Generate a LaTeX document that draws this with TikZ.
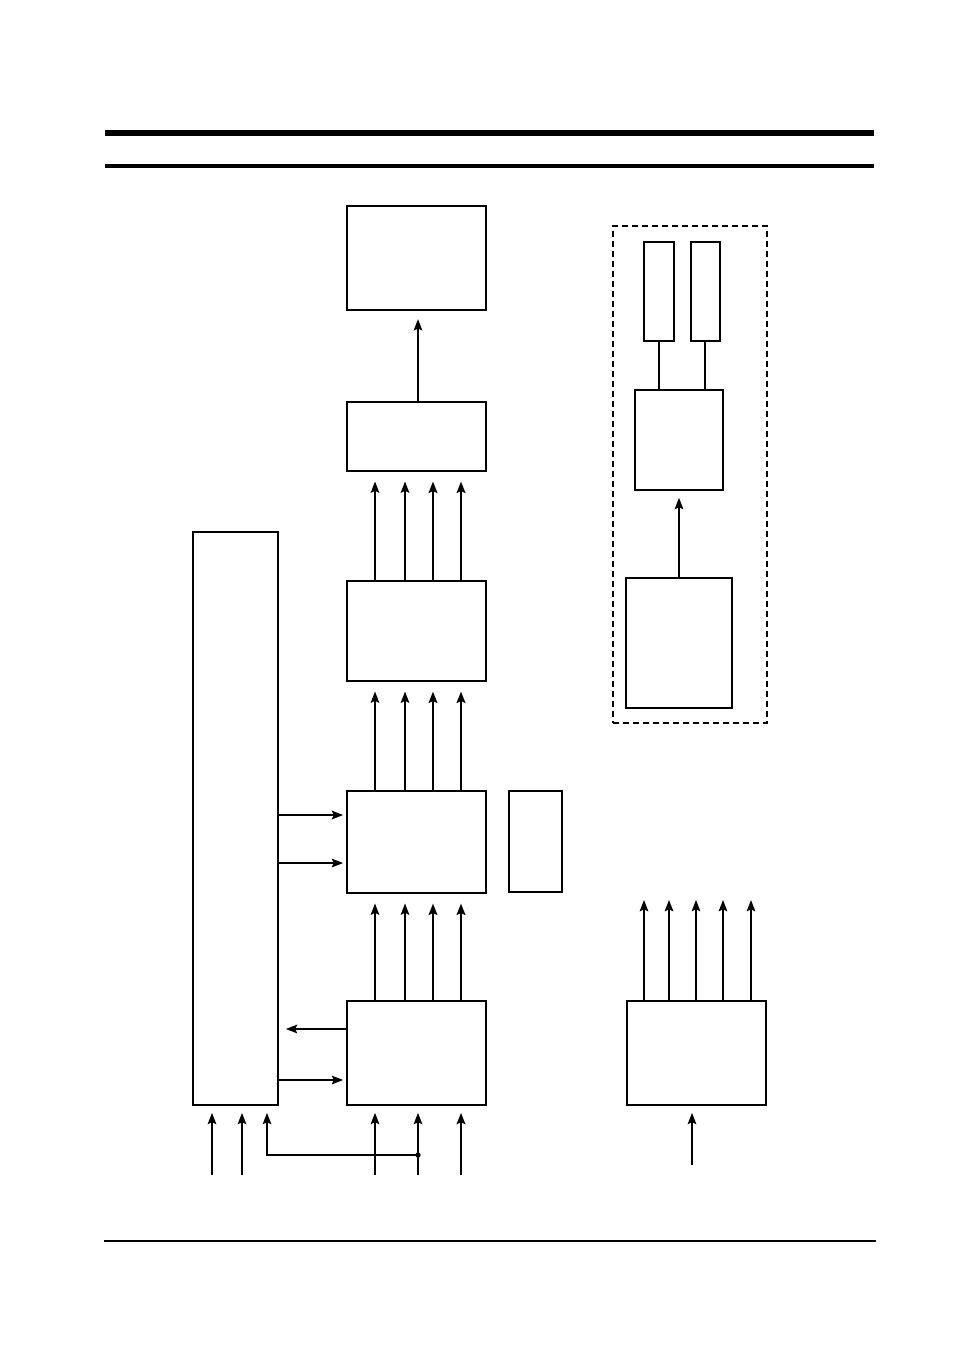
\documentclass[tikz,border=0pt]{standalone}
\usetikzlibrary{arrows.meta,fit}
\begin{document}
\begin{tikzpicture}[x=0.75pt,y=-0.75pt,
  box/.style={draw,line width=1.8pt,inner sep=0pt,fit={#1}},
  arr/.style={-{Stealth[length=8.5pt,width=6.5pt,inset=1.5pt]},line width=1.1pt},
  tarr/.style={arr,line width=2.2pt},
  lnk/.style={line width=1.1pt},
  tlnk/.style={line width=2.2pt}]
\useasboundingbox (0,0) rectangle (954,1351);
% rules
\draw[line width=4.2pt] (105,133) coordinate (r1a) -- (874,133) coordinate (r1b);
\draw[line width=2.5pt] (105,166) coordinate (r2a) -- (874,166) coordinate (r2b);
\draw[line width=1.6pt] (104,1241) coordinate (r3a) -- (876,1241) coordinate (r3b);
% boxes
\node[box={(347,206)(486,310)}] (A) {};
\node[box={(347,402)(486,471)}] (B) {};
\node[box={(347,581)(486,681)}] (C) {};
\node[box={(347,791)(486,893)}] (D) {};
\node[box={(347,1001)(486,1105)}] (E) {};
\node[box={(509,791)(562,892)}] (F) {};
\node[box={(193,532)(278,1105)}] (L) {};
\node[draw,dash pattern=on 4.5pt off 3pt,line width=0.9pt,inner sep=0pt,fit={(613,226)(767,723)}] (grp) {};
\node[box={(644,242)(674,341)}] (P1) {};
\node[box={(691,242)(720,341)}] (P2) {};
\node[box={(635,390)(723,490)}] (G) {};
\node[box={(626,578)(732,708)}] (H) {};
\node[box={(627,1001)(766,1105)}] (I) {};
% A <- B
\draw[arr,shorten >=6pt] (418,0 |- B.north) -- (418,0 |- A.south);
% stacks of four arrows
\foreach \lo/\hi in {C/B,D/C,E/D}{
  \draw[arr,shorten >=7pt] (375,0 |- \lo.north) -- (375,0 |- \hi.south);
  \draw[arr,shorten >=7pt] (405,0 |- \lo.north) -- (405,0 |- \hi.south);
  \draw[tarr,shorten >=7pt] (433,0 |- \lo.north) -- (433,0 |- \hi.south);
  \draw[tarr,shorten >=7pt] (461,0 |- \lo.north) -- (461,0 |- \hi.south);
}
% inputs to E
\coordinate (e1) at (375,1175);
\coordinate (e2) at (418,1175);
\coordinate (e3) at (461,1175);
\draw[arr,shorten >=5pt] (e1) -- (e1 |- E.south);
\draw[arr,shorten >=5pt] (e2) -- (e2 |- E.south);
\draw[tarr,shorten >=5pt] (e3) -- (e3 |- E.south);
% inputs to L
\coordinate (l1) at (212,1175);
\coordinate (l2) at (242,1175);
\coordinate (jn) at (418,1155);
\draw[arr,shorten >=5pt] (l1) -- (l1 |- L.south);
\draw[arr,shorten >=5pt] (l2) -- (l2 |- L.south);
\draw[arr,shorten >=5pt] (jn) -- (267,1155) -- (267,0 |- L.south);
\fill (jn) circle (2pt);
% L <-> D, E
\draw[tarr,shorten >=2pt] (L.east |- 0,815) -- (D.west |- 0,815);
\draw[arr,shorten >=2pt] (L.east |- 0,863) -- (D.west |- 0,863);
\draw[arr,shorten >=5pt] (E.west |- 0,1029) -- (L.east |- 0,1029);
\draw[arr,shorten >=2pt] (L.east |- 0,1080) -- (E.west |- 0,1080);
% group
\draw[lnk] (659,0 |- P1.south) -- (659,0 |- G.north);
\draw[tlnk] (705,0 |- P2.south) -- (705,0 |- G.north);
\draw[arr,shorten >=5pt] (679,0 |- H.north) -- (679,0 |- G.south);
% I outputs
\foreach \xx in {644,669,696,723,751}{
  \draw[arr] (\xx,0 |- I.north) -- (\xx,900);
}
\coordinate (iin) at (692,1165);
\draw[arr,shorten >=5pt] (iin) -- (iin |- I.south);
\end{tikzpicture}
\end{document}
